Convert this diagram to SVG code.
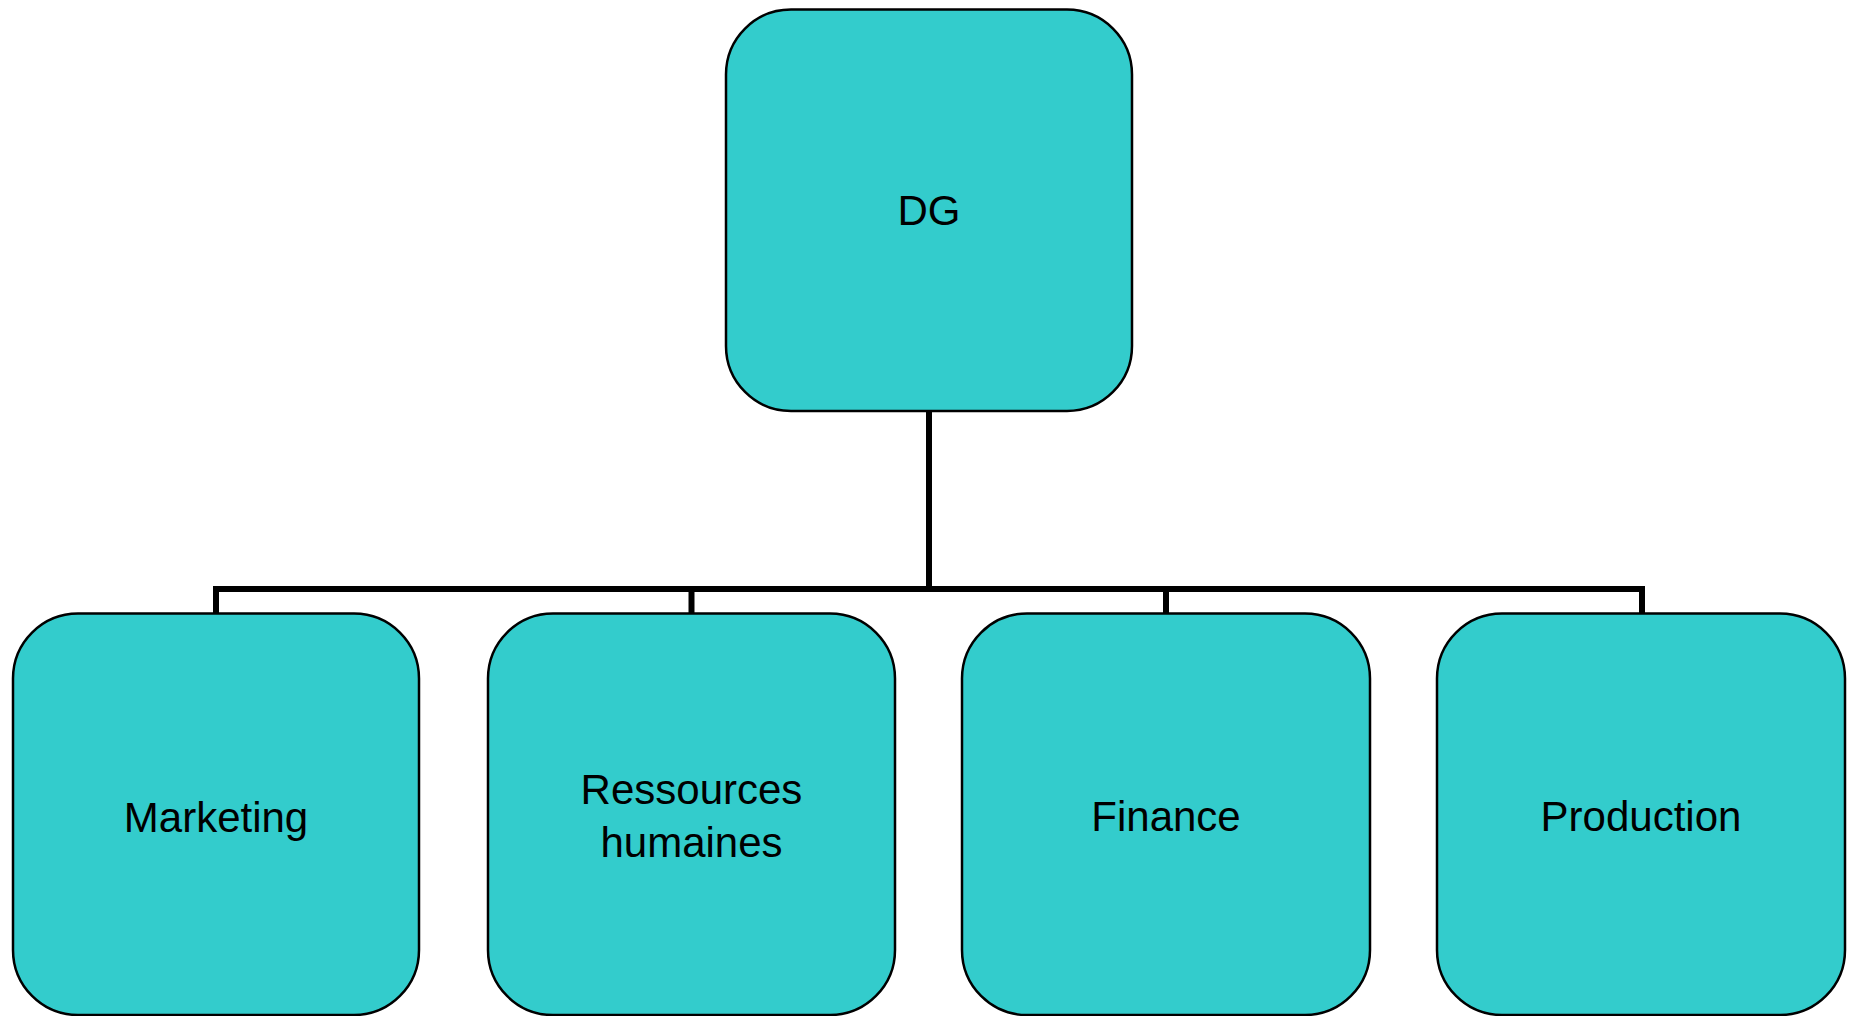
<svg xmlns="http://www.w3.org/2000/svg" width="1851" height="1016" viewBox="0 0 1851 1016">
<style>
.box{fill:#33CCCC;stroke:#000;stroke-width:2.5}
.lbl{font-family:"Liberation Sans",Arial,sans-serif;font-size:42px;fill:#000;text-anchor:middle}
.conn{fill:none;stroke:#000;stroke-width:6}
</style>
<rect width="1851" height="1016" fill="#fff"/>
<g id="connectors">
<path class="conn" d="M929 411 V589"/>
<path class="conn" d="M216 614 V589 H1642 V614"/>
<path class="conn" d="M691.5 589 V614"/>
<path class="conn" d="M1166 589 V614"/>
</g>
<g id="node-dg">
<rect class="box" x="726" y="9.5" width="406" height="401.5" rx="65" ry="65"/>
<text class="lbl" x="929" y="225">DG</text>
</g>
<g id="node-marketing">
<rect class="box" x="13" y="613.5" width="406" height="401.5" rx="65" ry="65"/>
<text class="lbl" x="216" y="832">Marketing</text>
</g>
<g id="node-rh">
<rect class="box" x="488" y="613.5" width="407" height="401.5" rx="65" ry="65"/>
<text class="lbl" x="691.5" y="804">Ressources</text>
<text class="lbl" x="691.5" y="857">humaines</text>
</g>
<g id="node-finance">
<rect class="box" x="962" y="613.5" width="408" height="401.5" rx="65" ry="65"/>
<text class="lbl" x="1166" y="831">Finance</text>
</g>
<g id="node-production">
<rect class="box" x="1437" y="613.5" width="408" height="401.5" rx="65" ry="65"/>
<text class="lbl" x="1641" y="831">Production</text>
</g>
</svg>
